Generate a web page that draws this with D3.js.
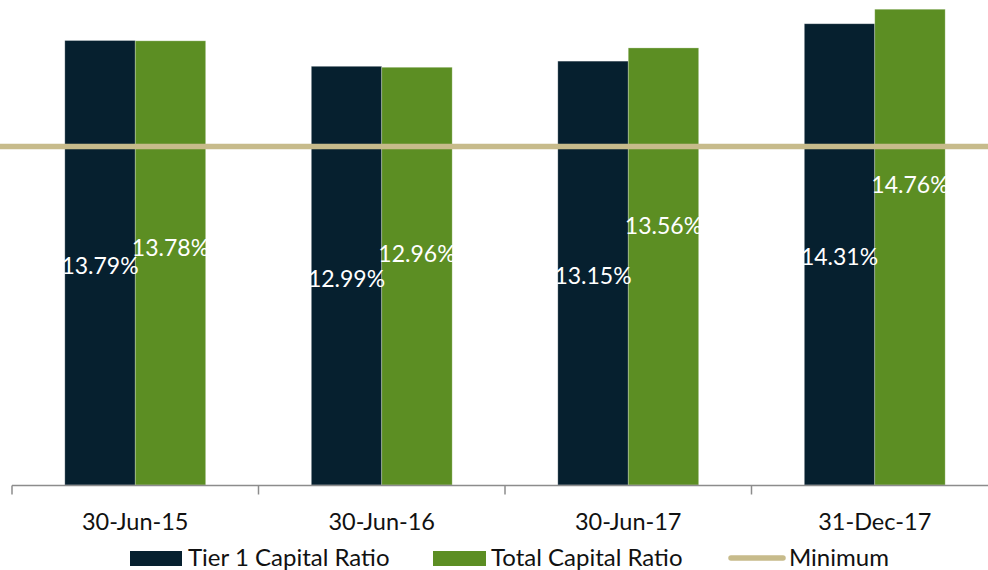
<!DOCTYPE html>
<html>
<head>
<meta charset="utf-8">
<script src="https://cdn.jsdelivr.net/npm/d3@7"></script>
<style>
  html, body { margin: 0; padding: 0; background: #ffffff; }
  svg { display: block; }
  text { font-family: Lato, "Open Sans", sans-serif; }
</style>
</head>
<body>
<svg id="chart" width="988" height="570"></svg>
<script>
// Capital adequacy ratios by reporting date
const periods = ["30-Jun-15", "30-Jun-16", "30-Jun-17", "31-Dec-17"];
const tier1Ratio = [13.79, 12.99, 13.15, 14.31];
const totalRatio = [13.78, 12.96, 13.56, 14.76];
const minimumRatio = 10.5;
const seriesNames = ["Tier 1 Capital Ratio", "Total Capital Ratio"];
const legendNames = ["Tier 1 Capital Ratio", "Total Capital Ratio", "Minimum"];

const colors = { tier1: "#06202F", total: "#5C8E23", minimum: "#C7BB8B", axis: "#8C8C8C" };

// vertical nudge (px) of the Total Capital Ratio labels above the bar middle
const totalLabelLift = [16, 23, 41, 63];

const W = 988, H = 570;
const plot = { left: 12, right: 998, top: 1.5, bottom: 485 };

const svg = d3.select("#chart");

const x0 = d3.scaleBand().domain(periods).range([plot.left, plot.right]).padding(0);
const x1 = d3.scaleBand().domain(seriesNames).range([0, x0.bandwidth()])
  .paddingInner(0).paddingOuter(0.75);
const y = d3.scaleLinear().domain([0, 15]).range([plot.bottom, plot.top]);

const rows = periods.map((p, i) => ({
  period: p,
  values: [
    { series: seriesNames[0], value: tier1Ratio[i], color: colors.tier1, lift: -2 },
    { series: seriesNames[1], value: totalRatio[i], color: colors.total, lift: totalLabelLift[i] }
  ]
}));

const groups = svg.append("g").selectAll("g")
  .data(rows).join("g")
  .attr("transform", d => `translate(${x0(d.period)},0)`);

groups.selectAll("rect")
  .data(d => d.values).join("rect")
  .attr("x", d => x1(d.series))
  .attr("width", x1.bandwidth())
  .attr("y", d => y(d.value))
  .attr("height", d => y(0) - y(d.value))
  .attr("fill", d => d.color)
  .attr("stroke", "rgba(255,255,255,0.35)")
  .attr("stroke-width", 0.8);

// minimum requirement line across the full width
svg.append("line")
  .attr("x1", 0).attr("x2", W)
  .attr("y1", y(minimumRatio)).attr("y2", y(minimumRatio))
  .attr("stroke", colors.minimum).attr("stroke-width", 5.5);

// value labels
groups.selectAll("text.val")
  .data(d => d.values).join("text")
  .attr("class", "val")
  .attr("x", d => x1(d.series) + x1.bandwidth() / 2)
  .attr("y", d => (y(d.value) + y(0)) / 2 - d.lift)
  .attr("text-anchor", "middle")
  .attr("dominant-baseline", "central")
  .attr("fill", "#ffffff")
  .attr("font-size", 23)
  .text(d => d.value.toFixed(2) + "%");

// category axis
const axis = svg.append("g").attr("transform", `translate(0,${plot.bottom + 0.5})`);
axis.append("line")
  .attr("x1", plot.left).attr("x2", W)
  .attr("stroke", colors.axis).attr("stroke-width", 1.5);
const boundaries = periods.map(p => x0(p)).concat([x0(periods[periods.length - 1]) + x0.bandwidth()]);
axis.selectAll("line.tick")
  .data(boundaries).join("line")
  .attr("class", "tick")
  .attr("x1", d => d).attr("x2", d => d)
  .attr("y1", 0).attr("y2", 9)
  .attr("stroke", colors.axis).attr("stroke-width", 1.5);
axis.selectAll("text")
  .data(periods).join("text")
  .attr("x", d => x0(d) + x0.bandwidth() / 2)
  .attr("y", 44)
  .attr("text-anchor", "middle")
  .attr("fill", "#111111")
  .attr("font-size", 23.5)
  .text(d => d);

// legend
const legend = svg.append("g");
const legendBase = 566;
const legendSize = 24;
legend.append("rect").attr("x", 130).attr("y", 551).attr("width", 52).attr("height", 15).attr("fill", colors.tier1);
legend.append("text").attr("x", 188).attr("y", legendBase).attr("font-size", legendSize).attr("fill", "#111111").text(legendNames[0]);
legend.append("rect").attr("x", 433).attr("y", 551).attr("width", 53).attr("height", 15).attr("fill", colors.total);
legend.append("text").attr("x", 491).attr("y", legendBase).attr("font-size", legendSize).attr("fill", "#111111").text(legendNames[1]);
legend.append("line").attr("x1", 731).attr("x2", 783).attr("y1", 558).attr("y2", 558)
  .attr("stroke", colors.minimum).attr("stroke-width", 5.5).attr("stroke-linecap", "round");
legend.append("text").attr("x", 789).attr("y", legendBase).attr("font-size", legendSize).attr("fill", "#111111").text(legendNames[2]);
</script>
</body>
</html>
